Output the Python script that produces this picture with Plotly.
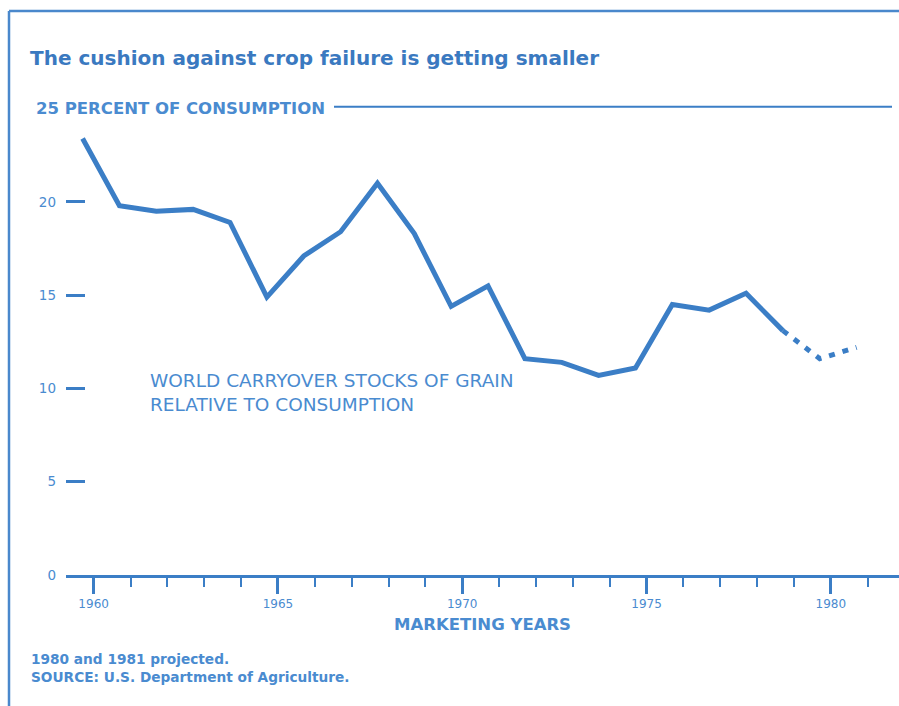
import plotly.graph_objects as go

# World carryover stocks of grain, percent of consumption, by marketing year
years = [1960, 1961, 1962, 1963, 1964, 1965, 1966, 1967, 1968, 1969, 1970,
         1971, 1972, 1973, 1974, 1975, 1976, 1977, 1978, 1979]
stocks = [23.4, 19.8, 19.5, 19.6, 18.9, 14.9, 17.1, 18.4, 21.0, 18.3, 14.4,
          15.5, 11.6, 11.4, 10.7, 11.1, 14.5, 14.2, 15.1, 13.1]

# Projected years (continue from the last actual year)
proj_years = [1979, 1980, 1981]
proj_stocks = [13.1, 11.6, 12.2]

y_ticks = [0, 5, 10, 15, 20]
x_major = [1960, 1965, 1970, 1975, 1980]

# Each marketing-year point sits a little before its calendar-year tick
YEAR_SHIFT = -0.3

LINE = "#3b7ec6"
TEXT = "#4a8bd0"
TITLE = "#3a79c0"
FONT = "DejaVu Sans"

fig = go.Figure()
fig.add_trace(go.Scatter(
    x=[y + YEAR_SHIFT for y in years], y=stocks, mode="lines",
    line=dict(color=LINE, width=5), hoverinfo="skip", showlegend=False,
))
fig.add_trace(go.Scatter(
    x=[y + YEAR_SHIFT for y in proj_years], y=proj_stocks, mode="lines",
    line=dict(color=LINE, width=5, dash="6px,8px"), hoverinfo="skip",
    showlegend=False,
))

W, H = 899, 706
L, R, T, B = 66, 0, 90, 131

fig.update_layout(
    width=W, height=H,
    margin=dict(l=L, r=R, t=T, b=B, pad=0),
    paper_bgcolor="white", plot_bgcolor="white",
    font=dict(family=FONT, color=TEXT),
    title=dict(
        text="<b>The cushion against crop failure is getting smaller</b>",
        font=dict(family=FONT, size=20, color=TITLE),
        xref="container", yref="container",
        x=30 / W, xanchor="left", y=1 - 58 / H, yanchor="middle",
    ),
    xaxis=dict(
        range=[1959.25, 1981.85],
        showgrid=False, zeroline=False,
        showline=True, linecolor=LINE, linewidth=3,
        tickmode="array", tickvals=x_major,
        ticktext=[str(v) for v in x_major],
        ticks="outside", ticklen=16, tickwidth=3, tickcolor=LINE,
        minor=dict(dtick=1, tick0=1960, ticks="outside", ticklen=9,
                   tickwidth=2, tickcolor=LINE, showgrid=False),
        tickfont=dict(family=FONT, size=12, color=TEXT),
        title=dict(text="<b>MARKETING YEARS</b>", standoff=9,
                   font=dict(family=FONT, size=16.5, color=TEXT)),
    ),
    yaxis=dict(
        range=[0, 26],
        showgrid=False, zeroline=False, showline=False,
        tickmode="array", tickvals=y_ticks,
        ticktext=[str(v) for v in y_ticks],
        ticks="inside", ticklen=19, tickwidth=3, tickcolor=LINE,
        ticklabelstandoff=9,
        tickfont=dict(family=FONT, size=13.5, color=TEXT),
    ),
)

# 25 percent reference line with its label
fig.add_annotation(
    text="<b>25 PERCENT OF CONSUMPTION</b>", xref="paper", yref="y",
    x=(34 - L) / (W - L - R), y=25, xanchor="left", yanchor="middle",
    showarrow=False, font=dict(family=FONT, size=16.5, color=TEXT),
)
fig.add_shape(type="line", xref="paper", yref="y",
              x0=(334 - L) / (W - L - R), x1=(892 - L) / (W - L - R),
              y0=25.1, y1=25.1, line=dict(color=LINE, width=2))

# Series label
fig.add_annotation(
    text="WORLD CARRYOVER STOCKS OF GRAIN<br>RELATIVE TO CONSUMPTION",
    xref="paper", yref="y", x=(148 - L) / (W - L - R), y=9.8,
    xanchor="left", yanchor="middle", align="left", showarrow=False,
    font=dict(family=FONT, size=18.5, color=TEXT),
)

# Footnotes
fig.add_annotation(
    text="<b>1980 and 1981 projected.<br>SOURCE: U.S. Department of Agriculture.</b>",
    xref="paper", yref="paper", x=(29 - L) / (W - L - R),
    y=(H - B - 668) / (H - T - B), xanchor="left", yanchor="middle",
    align="left", showarrow=False,
    font=dict(family=FONT, size=13.7, color=TEXT),
)

# Frame along the top and left edges
px = lambda p: (p - L) / (W - L - R)
py = lambda p: (H - B - p) / (H - T - B)
fig.add_shape(type="line", xref="paper", yref="paper",
              x0=px(9), x1=px(899), y0=py(11), y1=py(11),
              line=dict(color="#4a88cc", width=2.5))
fig.add_shape(type="line", xref="paper", yref="paper",
              x0=px(9), x1=px(9), y0=py(11), y1=py(706),
              line=dict(color="#4a88cc", width=2.5))

fig.write_html("out.html")
